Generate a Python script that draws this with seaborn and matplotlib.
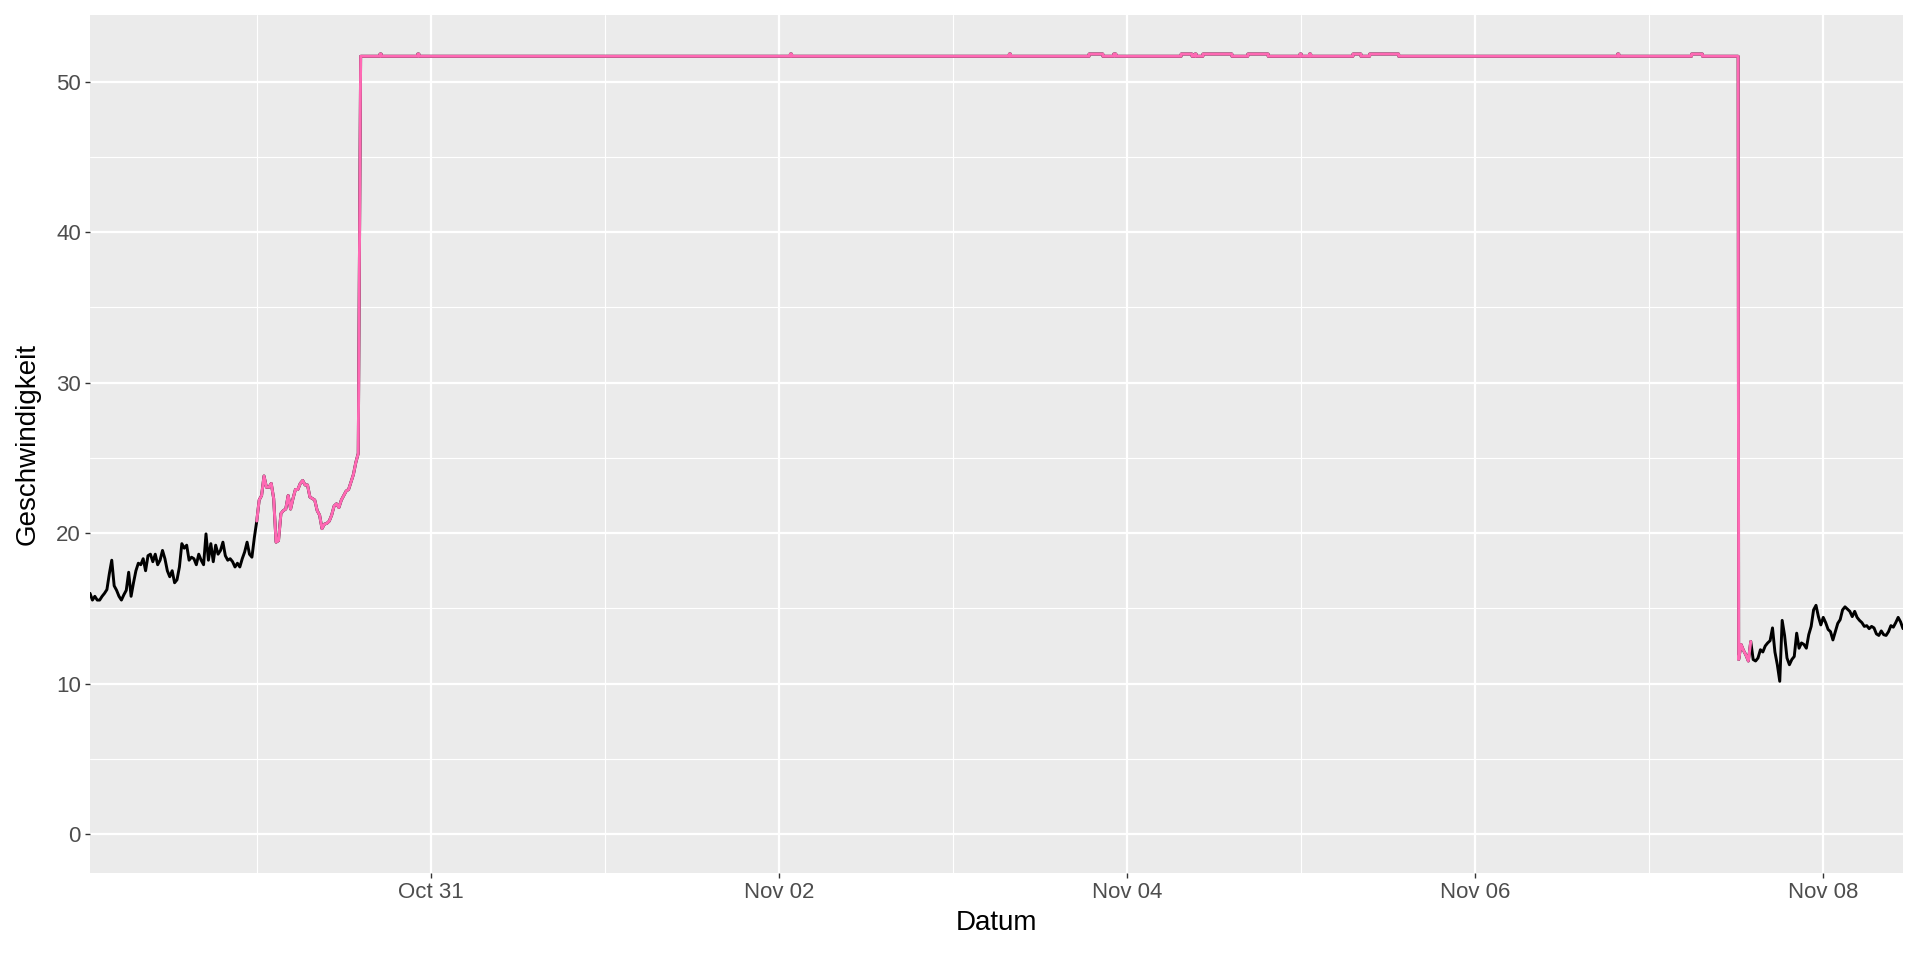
import numpy as np
import pandas as pd
import matplotlib
matplotlib.use("Agg")
import matplotlib.pyplot as plt
import matplotlib.dates as mdates
import seaborn as sns

# ---------------- data ----------------
start = pd.Timestamp("2019-10-29 00:00")

# black part before the anomaly: every 20 min from Oct 29 01:00 to Oct 29 23:40
left_values = [16.0, 15.55, 15.8, 15.55, 15.55, 15.8, 16.0, 16.25, 17.3, 18.2,
               16.5, 16.2, 15.8, 15.55, 15.9, 16.2, 17.4, 15.8, 16.7, 17.5,
               18.0, 17.9, 18.3, 17.5, 18.5, 18.6, 18.1, 18.6, 17.9, 18.2,
               18.85, 18.3, 17.5, 17.1, 17.5, 16.7, 16.9, 17.75, 19.3, 19.0,
               19.2, 18.2, 18.4, 18.3, 17.9, 18.6, 18.2, 17.9, 19.95, 18.2,
               19.3, 18.1, 19.2, 18.6, 18.85, 19.4, 18.5, 18.2, 18.3, 18.1,
               17.75, 18.0, 17.75, 18.3, 18.75, 19.4, 18.6, 18.4, 19.7]
# pink noisy part: every 20 min from Oct 30 00:00 to Oct 30 14:00
pink_values = [20.8, 22.2, 22.5, 23.8, 23.05, 23.05, 23.3, 22.3, 19.4, 19.5,
               21.3, 21.5, 21.6, 22.5, 21.6, 22.3, 22.9, 22.9, 23.3, 23.5,
               23.2, 23.2, 22.4, 22.3, 22.2, 21.5, 21.2, 20.3, 20.6, 20.65,
               20.8, 21.2, 21.8, 21.95, 21.7, 22.2, 22.5, 22.8, 22.9, 23.4,
               23.9, 24.7, 25.3]
# plateau: level changes (hours since Oct 29 00:00)
plateau_hours = [38.33, 41.0, 41.17, 46.2, 46.37, 97.6, 97.77, 127.8, 127.97,
                 138.8, 140.7, 142.2, 142.5, 151.5, 153.0, 153.4, 153.57,
                 154.5, 158.5, 160.7, 163.5, 167.9, 168.07, 169.2, 169.37,
                 175.2, 176.3, 177.5, 181.5, 211.7, 211.87, 221.9, 223.4, 228.33]
plateau_levels = [51.7, 51.85, 51.7, 51.85, 51.7, 51.85, 51.7, 51.85, 51.7,
                  51.85, 51.7, 51.85, 51.7, 51.85, 51.7, 51.85, 51.7,
                  51.85, 51.7, 51.85, 51.7, 51.85, 51.7, 51.85, 51.7,
                  51.85, 51.7, 51.85, 51.7, 51.85, 51.7, 51.85, 51.7, 51.7]
# after the anomaly: every 20 min from Nov 07 12:24
right_values = [11.6, 12.6, 12.2, 11.9, 11.5, 12.8, 11.6, 11.5, 11.7, 12.25,
                12.1, 12.5, 12.7, 12.85, 13.7, 12.1, 11.25, 10.15, 14.2, 13.2,
                11.7, 11.25, 11.6, 11.8, 13.35, 12.35, 12.7, 12.6, 12.35, 13.25,
                13.8, 14.9, 15.2, 14.45, 13.9, 14.4, 14.05, 13.6, 13.45, 12.9,
                13.45, 14.0, 14.25, 14.9, 15.1, 14.95, 14.8, 14.45, 14.8, 14.4,
                14.2, 14.05, 13.8, 13.85, 13.65, 13.8, 13.7, 13.3, 13.2, 13.5,
                13.25, 13.2, 13.45, 13.85, 13.75, 14.05, 14.4, 14.1, 13.65]
right_pink_count = 6

x_ticks = ["2019-10-31", "2019-11-02", "2019-11-04", "2019-11-06", "2019-11-08"]
x_ticklabels = ["Oct 31", "Nov 02", "Nov 04", "Nov 06", "Nov 08"]
x_minor = ["2019-10-30", "2019-11-01", "2019-11-03", "2019-11-05", "2019-11-07"]
y_ticks = [0, 10, 20, 30, 40, 50]

# ---------------- build frames ----------------
left_t = start + pd.to_timedelta(1.0 + np.arange(len(left_values)) / 3, unit="h")
pink_t = start + pd.to_timedelta(24.0 + np.arange(len(pink_values)) / 3, unit="h")
ph, pl = [], []
for i in range(len(plateau_hours) - 1):
    ph += [plateau_hours[i], plateau_hours[i + 1]]
    pl += [plateau_levels[i], plateau_levels[i]]
plat_t = start + pd.to_timedelta(np.array(ph), unit="h")
right_t = start + pd.to_timedelta(228.4 + np.arange(len(right_values)) / 3, unit="h")

left_df = pd.DataFrame({"Datum": left_t, "Geschwindigkeit": left_values})
pinkn_df = pd.DataFrame({"Datum": pink_t, "Geschwindigkeit": pink_values})
plat_df = pd.DataFrame({"Datum": plat_t, "Geschwindigkeit": pl})
right_df = pd.DataFrame({"Datum": right_t, "Geschwindigkeit": right_values})

all_df = pd.concat([left_df, pinkn_df, plat_df, right_df], ignore_index=True)
pink_df = pd.concat([pinkn_df, plat_df, right_df.iloc[:right_pink_count]], ignore_index=True)

# ---------------- style ----------------
sns.set_theme(style="darkgrid", rc={
    "axes.facecolor": "#EBEBEB",
    "grid.color": "white",
    "figure.facecolor": "white",
})
plt.rcParams["font.family"] = ["Liberation Sans", "DejaVu Sans"]

fig = plt.figure(figsize=(19.2, 9.6), dpi=100)
ax = fig.add_subplot(111)
fig.subplots_adjust(left=90 / 1920, right=1903 / 1920, top=1 - 15 / 960, bottom=1 - 873 / 960)

sns.lineplot(data=all_df, x="Datum", y="Geschwindigkeit", color="black",
             linewidth=2.1, estimator=None, sort=False, ax=ax)
sns.lineplot(data=pink_df, x="Datum", y="Geschwindigkeit", color="#FF69B4",
             linewidth=2.1, estimator=None, sort=False, ax=ax)

ax.set_xlim(all_df["Datum"].min(), all_df["Datum"].max())
ymax = all_df["Geschwindigkeit"].max()
pad = 0.05 * ymax
ax.set_ylim(-pad, ymax + pad)

ax.set_xticks(mdates.date2num(pd.to_datetime(x_ticks)))
ax.set_xticklabels(x_ticklabels)
ax.set_xticks(mdates.date2num(pd.to_datetime(x_minor)), minor=True)
ax.set_yticks(y_ticks)
ax.set_yticklabels([str(v) for v in y_ticks])
ax.set_yticks([5, 15, 25, 35, 45], minor=True)

ax.grid(which="major", color="white", linewidth=1.6)
ax.grid(which="minor", color="white", linewidth=0.8)
ax.set_axisbelow(True)
for s in ax.spines.values():
    s.set_visible(False)

ax.tick_params(axis="both", which="major", length=3.6, width=1.0, color="#333333",
               labelcolor="#4D4D4D", labelsize=16, pad=3, bottom=True, left=True)
ax.tick_params(axis="both", which="minor", length=0)

ax.set_xlabel("Datum", fontsize=20, color="black", labelpad=5)
ax.set_ylabel("Geschwindigkeit", fontsize=20, color="black", labelpad=11)

fig.savefig("out.png", dpi=100)
